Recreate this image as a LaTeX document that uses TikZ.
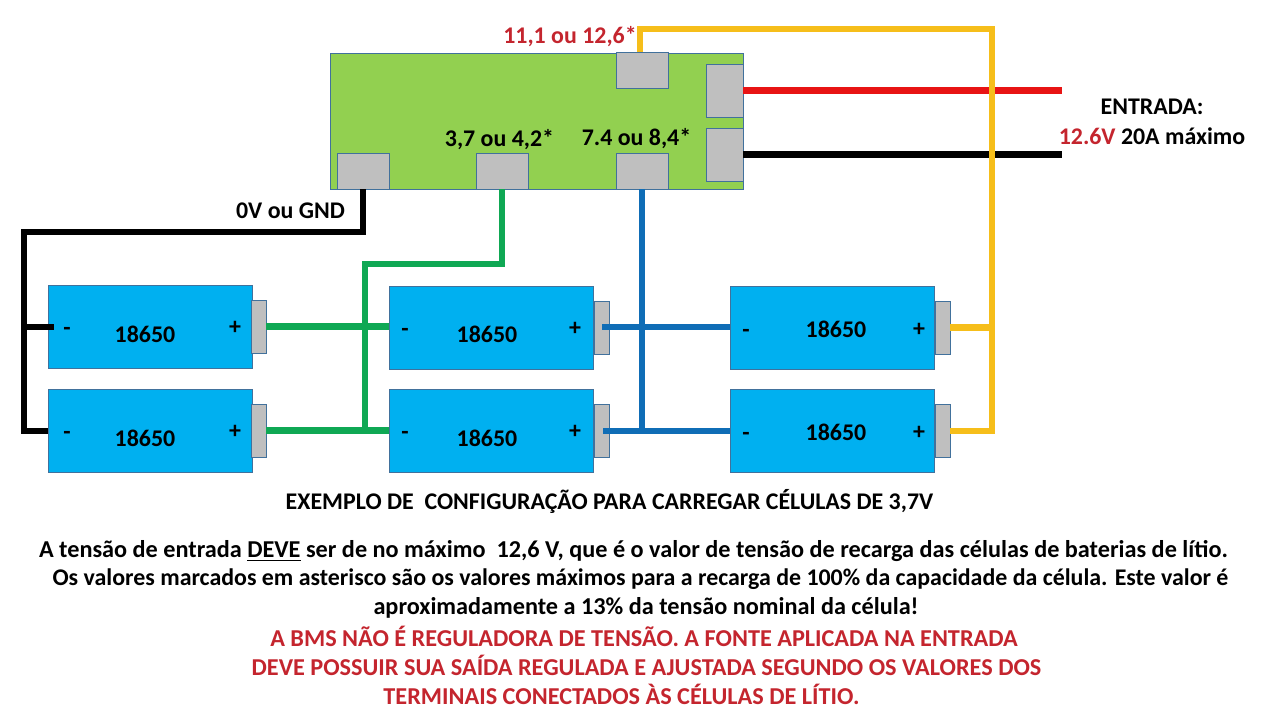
\documentclass[tikz,border=0pt]{standalone}
\usepackage{fontspec}
\setmainfont{Carlito}
\definecolor{placa}{HTML}{92D050}
\definecolor{cinza}{HTML}{BFBFBF}
\definecolor{celula}{HTML}{00B0F0}
\definecolor{contorno}{HTML}{41719C}
\definecolor{amarelo}{HTML}{F6BE1A}
\definecolor{verde}{HTML}{0FA854}
\definecolor{azul}{HTML}{0F6DB6}
\definecolor{vermelho}{HTML}{E81414}
\definecolor{aviso}{HTML}{C4252E}
\tikzset{
  placabms/.style={draw=contorno, fill=placa, line width=0.5pt, minimum width=8.26cm, minimum height=2.72cm, inner sep=0pt},
  pad/.style={draw=contorno, fill=cinza, line width=0.5pt, minimum width=1.04cm, minimum height=0.72cm, inner sep=0pt},
  padlado/.style={pad, minimum width=0.74cm, minimum height=1.06cm},
  bateria/.style={draw=contorno, fill=celula, line width=0.5pt, minimum width=4.08cm, minimum height=1.66cm, inner sep=0pt},
  polo/.style={draw=contorno, fill=cinza, line width=0.5pt, minimum width=0.30cm, minimum height=1.06cm, inner sep=0pt},
  fio/.style={line width=0.125cm},
  rotulo/.style={font=\bfseries\fontsize{13.6}{15}\selectfont, inner sep=0pt, text=black},
  linha/.style={font=\bfseries\fontsize{13.8}{15}\selectfont, inner sep=0pt, text=black},
  alerta/.style={linha, text=aviso}
}
\begin{document}
\begin{tikzpicture}[x=0.02cm, y=-0.02cm]
    \useasboundingbox (0,0) rectangle (1280,720);

    % placa BMS
    \node[placabms] (bms) at (536.5,121) {};
    \node[pad] (padtopo) at (642,70.5) {};
    \node[padlado] (padmais) at (724.5,90.5) {};
    \node[padlado] (padmenos) at (724.5,154.5) {};
    \node[pad] (padgnd) at (363,171) {};
    \node[pad] (padtres) at (502,171) {};
    \node[pad] (padsete) at (642,171) {};

    % celulas
    \node[bateria] (cel1) at (150,327) {};
    \node[bateria] (cel2) at (150,430.5) {};
    \node[bateria] (cel3) at (491.5,327.5) {};
    \node[bateria] (cel4) at (491.5,430.5) {};
    \node[bateria] (cel5) at (832.5,327.5) {};
    \node[bateria] (cel6) at (832.5,430.5) {};
    \node[polo] (polo1) at (258.5,326.5) {};
    \node[polo] (polo2) at (258.5,430.5) {};
    \node[polo] (polo3) at (601.5,327.5) {};
    \node[polo] (polo4) at (601.5,430.5) {};
    \node[polo] (polo5) at (942.5,327.5) {};
    \node[polo] (polo6) at (942.5,430.5) {};

    % pontos dos fios
    \coordinate (entrada1) at (1062,90.5);
    \coordinate (entrada2) at (1062,154.5);
    \coordinate (canto1) at (640,29);
    \coordinate (canto2) at (992,29);
    \coordinate (canto3) at (992,431);
    \coordinate (nopreto) at (24,327);
    \coordinate (fimpreto) at (54,327);
    \coordinate (noverde1) at (365,326.5);
    \coordinate (noverde2) at (365,430.5);
    \coordinate (noazul1) at (642,327);
    \coordinate (noazul2) at (642,431);
    \coordinate (inicioazul1) at (602,327);
    \coordinate (inicioazul2) at (603,431);

    % fios da entrada
    \draw[fio, vermelho] (padmais.east) -- (entrada1);
    \draw[fio, black] (padmenos.east) -- (entrada2);

    % fio amarelo
    \draw[fio, amarelo] (padtopo.north -| canto1) -- (canto1) -- (canto2) -- (canto3) -- (polo6.east |- canto3);
    \draw[fio, amarelo] (polo5.east) -- (canto3 |- polo5.east);

    % fio preto
    \draw[fio, black] (padgnd.south) -- (363,232) -- (24,232) -- (24,431) -- (cel2.west |- 24,431);
    \draw[fio, black] (nopreto) -- (fimpreto);

    % fio verde
    \draw[fio, verde] (padtres.south) -- (502,264) -- (365,264) -- (noverde2);
    \draw[fio, verde] (polo1.east) -- (noverde1) -- (cel3.west |- noverde1);
    \draw[fio, verde] (polo2.east) -- (noverde2) -- (cel4.west |- noverde2);

    % fio azul
    \draw[fio, azul] (padsete.south -| noazul1) -- (noazul2);
    \draw[fio, azul] (inicioazul1) -- (cel5.west |- inicioazul1);
    \draw[fio, azul] (inicioazul2) -- (cel6.west |- inicioazul2);

    % textos das celulas
    \node[rotulo] (nome1) at (145,334) {18650};
    \node[rotulo] (nome2) at (145,438) {18650};
    \node[rotulo] (nome3) at (487,334) {18650};
    \node[rotulo] (nome4) at (487,438) {18650};
    \node[rotulo] (nome5) at (836,329) {18650};
    \node[rotulo] (nome6) at (836,432) {18650};
    \node[rotulo] (menos1) at (67,331.5) {-};
    \node[rotulo] (menos2) at (67,435.5) {-};
    \node[rotulo] (menos3) at (405,332.5) {-};
    \node[rotulo] (menos4) at (405,435.5) {-};
    \node[rotulo] (menos5) at (746,333.5) {-};
    \node[rotulo] (menos6) at (746,436.5) {-};
    \node[rotulo] (mais1) at (235,328) {+};
    \node[rotulo] (mais2) at (235,432) {+};
    \node[rotulo] (mais3) at (575,329) {+};
    \node[rotulo] (mais4) at (575,432) {+};
    \node[rotulo] (mais5) at (919,330) {+};
    \node[rotulo] (mais6) at (919,433) {+};

    % tensoes
    \node[rotulo, text=aviso] (v11) at (570,37) {11,1 ou 12,6*};
    \node[rotulo] (v3) at (499.5,140) {3,7 ou 4,2*};
    \node[rotulo] (v7) at (636.5,139) {7.4 ou 8,4*};
    \node[rotulo] (v0) at (290.5,211) {0V ou GND};
    \node[rotulo] (entrada) at (1152,107) {ENTRADA:};
    \node[rotulo] (maximo) at (1152,136) {\textcolor{aviso}{12.6V} 20A máximo};

    % notas
    \node[rotulo] (titulo) at (609.5,501) {EXEMPLO DE \ CONFIGURAÇÃO PARA CARREGAR CÉLULAS DE 3,7V};
    \node[linha] (nota1) at (633.5,551) {A tensão de entrada \underline{DEVE} ser de no máximo \ 12,6 V, que é o valor de tensão de recarga das células de baterias de lítio.};
    \node[rotulo] (nota2) at (640.5,579) {Os valores marcados em asterisco são os valores máximos para a recarga de 100\% da capacidade da célula. Este valor é};
    \node[linha] (nota3) at (646,608) {aproximadamente a 13\% da tensão nominal da célula!};
    \node[alerta] (aviso1) at (644,636.5) {A BMS NÃO É REGULADORA DE TENSÃO. A FONTE APLICADA NA ENTRADA};
    \node[alerta] (aviso2) at (646.5,665.5) {DEVE POSSUIR SUA SAÍDA REGULADA E AJUSTADA SEGUNDO OS VALORES DOS};
    \node[alerta] (aviso3) at (621.5,694.5) {TERMINAIS CONECTADOS ÀS CÉLULAS DE LÍTIO.};
\end{tikzpicture}
\end{document}
